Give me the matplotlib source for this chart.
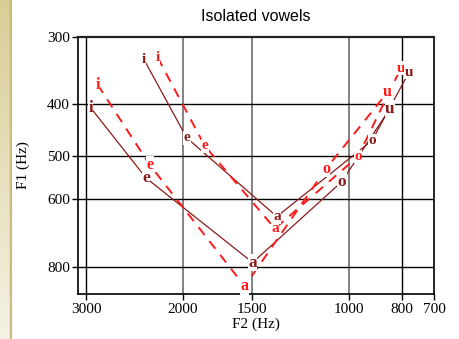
import matplotlib
matplotlib.use("Agg")
import matplotlib.pyplot as plt
import numpy as np
from matplotlib.ticker import FixedLocator, NullLocator, FixedFormatter
from matplotlib.colors import LinearSegmentedColormap

vowels = ["i", "e", "a", "o", "u"]

# Dark red solid, outer
f2_dark_outer = [2945, 2335, 1495, 1030, 842]
f1_dark_outer = [406, 548, 786, 557, 408]
# Dark red solid, inner
f2_dark_inner = [2358, 1969, 1351, 907, 777]
f1_dark_inner = [330, 462, 646, 467, 349]
# Red dashed, outer
f2_red_outer = [2860, 2300, 1545, 1100, 850]
f1_red_outer = [368, 518, 870, 527, 380]
# Red dashed, inner
f2_red_inner = [2224, 1826, 1362, 962, 804]
f1_red_inner = [328, 478, 680, 500, 343]

xticks = [3000, 2000, 1500, 1000, 800, 700]
yticks = [300, 400, 500, 600, 800]

DARK = "#8b1a1a"
RED = "#ff1a1a"

fig = plt.figure(figsize=(4.6, 3.39), dpi=100)

# decorative left strip
sax = fig.add_axes([0, 0, 12 / 460, 1])
grad = np.linspace(0, 1, 256).reshape(-1, 1)
cm = LinearSegmentedColormap.from_list("strip", ["#f5f1e4", "#d9cd96"])
sax.imshow(grad, aspect="auto", cmap=cm, origin="lower", extent=[0, 1, 0, 1])
sax.axvline(0.92, color="#c9bb78", lw=2.5)
sax.set_xlim(0, 1)
sax.axis("off")

ax = fig.add_axes([78.3 / 460, 1 - 294.3 / 339, (434 - 78.3) / 460, (294.3 - 36.7) / 339])
ax.set_xscale("log")
ax.set_yscale("log")
ax.set_xlim(3100, 700)
ax.set_ylim(900, 300)

# grid lines
for v in [3000, 800]:
    ax.axvline(v, color="black", lw=1, zorder=1)
for v in [2000, 1500, 1000]:
    ax.axvline(v, color="#6e6e6e", lw=1.2, zorder=1)
for v in [400, 500, 600, 800]:
    ax.axhline(v, color="black", lw=1, zorder=1)

ax.plot(f2_dark_outer, f1_dark_outer, color=DARK, lw=0.9, zorder=2)
ax.plot(f2_dark_inner, f1_dark_inner, color=DARK, lw=0.9, zorder=2)
ax.plot(f2_red_outer, f1_red_outer, color=RED, lw=1.4, dashes=(5, 4), zorder=2)
ax.plot(f2_red_inner, f1_red_inner, color=RED, lw=1.4, dashes=(5, 4), zorder=2)

def labels(xs, ys, color, size, z):
    for v, x, y in zip(vowels, xs, ys):
        ax.text(x, y, v, color=color, fontsize=size, fontweight="bold",
                family="Liberation Serif", ha="center", va="center", zorder=z,
                bbox=dict(boxstyle="square,pad=0.03", fc="white", ec="none"))

labels(f2_red_outer, f1_red_outer, RED, 11.5, 3)
labels(f2_red_inner, f1_red_inner, RED, 11, 3)
labels(f2_dark_outer, f1_dark_outer, DARK, 12.5, 4)
labels(f2_dark_inner, f1_dark_inner, DARK, 11, 4)

ax.xaxis.set_major_locator(FixedLocator(xticks))
ax.xaxis.set_minor_locator(NullLocator())
ax.xaxis.set_major_formatter(FixedFormatter([str(t) for t in xticks]))
ax.yaxis.set_major_locator(FixedLocator(yticks))
ax.yaxis.set_minor_locator(NullLocator())
ax.yaxis.set_major_formatter(FixedFormatter([str(t) for t in yticks]))
ax.tick_params(direction="out", length=4, width=1, labelsize=11, pad=2)
for lab in ax.get_xticklabels() + ax.get_yticklabels():
    lab.set_family("Liberation Serif")

for s in ax.spines.values():
    s.set_linewidth(1.2)
ax.spines["top"].set_color("#222222")
ax.spines["top"].set_linewidth(1.6)

ax.set_xlabel("F2 (Hz)", family="Liberation Serif", fontsize=11, labelpad=1)
ax.set_ylabel("F1 (Hz)", family="Liberation Serif", fontsize=11, labelpad=12)
ax.set_title("Isolated vowels", family="Liberation Sans", fontsize=11.5, pad=11)

fig.savefig("out.png", dpi=100)
